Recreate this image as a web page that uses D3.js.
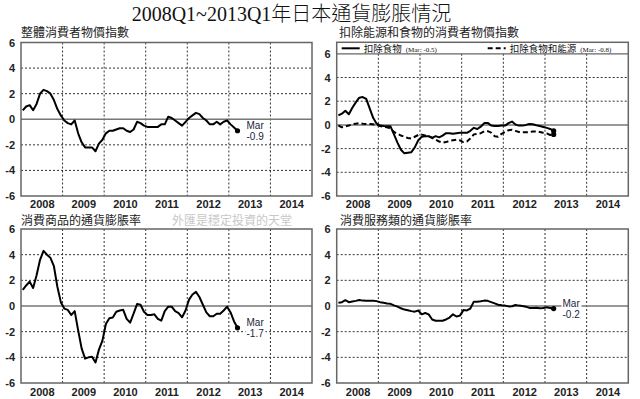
<!DOCTYPE html>
<html><head><meta charset="utf-8">
<script src="https://cdn.jsdelivr.net/npm/d3@7"></script>
<style>
html,body{margin:0;padding:0;background:#fff;}
svg{display:block;}
text{font-family:"Liberation Sans",Arial,"Noto Sans CJK TC",sans-serif;}
.cjk{font-family:"Liberation Sans","Noto Sans CJK TC",sans-serif;}
</style></head>
<body>
<script>
// ---------------- DATA ----------------
const title = "2008Q1~2013Q1年日本通貨膨脹情況";
const startYear = 2008;            // monthly series start Jan 2008, end Mar 2013
const years = [2008, 2009, 2010, 2011, 2012, 2013, 2014];
const yTicks = [-6, -4, -2, 0, 2, 4, 6];
const panelTitles = ["整體消費者物價指數", "扣除能源和食物的消費者物價指數", "消費商品的通貨膨脹率", "消費服務類的通貨膨脹率"];
const watermark = "外匯是穩定投資的天堂";
const legendNames = ["扣除食物", "扣除食物和能源"];
const legendNotes = ["(Mar: -0.5)", "(Mar: -0.8)"];
const endLabels = [["Mar", "-0.9"], null, ["Mar", "-1.7"], ["Mar", "-0.2"]];

const cpiAll = [
  0.7, 1.0, 1.1, 0.7, 1.2, 2.0, 2.3, 2.2, 2.0, 1.5, 0.8, 0.3,
  -0.1, -0.3, -0.4, -0.1, -1.1, -1.8, -2.2, -2.2, -2.2, -2.5, -1.9, -1.6,
  -1.1, -0.9, -0.9, -0.8, -0.7, -0.7, -0.9, -1.0, -0.8, -0.2, -0.3, -0.5,
  -0.6, -0.6, -0.6, -0.6, -0.4, -0.4, 0.2, 0.1, -0.1, -0.3, -0.5, -0.2,
  0.1, 0.3, 0.5, 0.4, 0.1, -0.1, -0.4, -0.4, -0.2, -0.4, -0.2, -0.1,
  -0.4, -0.65, -0.9
];
const cpiExFood = [
  0.8, 0.95, 1.2, 0.9, 1.45, 1.9, 2.3, 2.35, 2.2, 1.4, 0.6, 0.1,
  -0.05, -0.1, -0.12, -0.12, -0.8, -1.5, -2.1, -2.4, -2.35, -2.3, -1.9, -1.3,
  -1.0, -0.95, -0.95, -1.1, -0.95, -1.05, -0.9, -0.7, -0.7, -0.75, -0.7, -0.67,
  -0.67, -0.67, -0.5, -0.25, -0.35, -0.15, 0.15, 0.17, -0.05, -0.1, -0.1, -0.06,
  -0.06, 0.15, 0.28, 0.03, -0.06, -0.06, 0.0, 0.08, 0.05, -0.03, -0.1, -0.17,
  -0.25, -0.34, -0.5
];
const cpiExFoodEnergy = [
  -0.05, -0.2, -0.12, -0.05, 0.05, 0.1, 0.15, 0.1, 0.08, 0.08, 0.05, 0.0,
  -0.1, -0.15, -0.2, -0.3, -0.6, -0.75, -0.9, -1.0, -1.1, -1.15, -1.0, -0.85,
  -0.82, -0.9, -0.95, -1.1, -1.25, -1.4, -1.5, -1.45, -1.35, -1.3, -1.25, -1.3,
  -1.45, -1.4, -1.15, -0.8, -0.75, -0.7, -0.55, -0.53, -0.65, -0.95, -1.0, -0.75,
  -0.6, -0.45, -0.4, -0.5, -0.6, -0.62, -0.62, -0.62, -0.55, -0.55, -0.6, -0.67,
  -0.72, -0.85, -0.8
];
const goods = [
  1.25, 1.6, 1.9, 1.4, 2.4, 3.6, 4.3, 4.0, 3.75, 3.1, 1.5, 0.3,
  -0.2, -0.3, -0.7, -0.4, -1.9, -3.3, -4.1, -4.0, -3.95, -4.4, -3.4, -2.7,
  -1.4, -0.95, -0.9, -0.45, -0.35, -0.3, -1.0, -1.3, -0.6, 0.15, 0.1, -0.45,
  -0.7, -0.7, -0.65, -1.0, -1.14, -0.4, -0.05, -0.05, -0.4, -0.55, -0.88, -0.35,
  0.5, 0.9, 1.1, 0.7, 0.1, -0.5, -0.8, -0.8, -0.6, -0.6, -0.35, -0.05,
  -0.5, -1.2, -1.7
];
const services = [
  0.25, 0.3, 0.45, 0.3, 0.35, 0.4, 0.47, 0.42, 0.4, 0.4, 0.4, 0.38,
  0.3, 0.25, 0.2, 0.17, 0.05, -0.05, -0.18, -0.28, -0.33, -0.4, -0.44, -0.35,
  -0.65, -0.55, -0.65, -1.05, -1.15, -1.15, -1.15, -1.05, -0.9, -0.65, -0.82, -0.75,
  -0.32, -0.35, -0.2, 0.34, 0.34, 0.37, 0.42, 0.4, 0.3, 0.2, 0.1, 0.05,
  0.03, -0.03, -0.02, 0.08, 0.03, 0.0, -0.05, -0.15, -0.15, -0.13, -0.18, -0.15,
  -0.1, -0.15, -0.2
];

// ---------------- LAYOUT ----------------
const W = 640, H = 399;
const svg = d3.select("body").append("svg").attr("width", W).attr("height", H);

const panels = [
  {x0: 21, x1: 312, yTop: 42.5, yBot: 196, boxTop: 42.5, series: [{v: cpiAll, dash: null}], yearY: 208},
  {x0: 336.7, x1: 628.3, yTop: 53.8, yBot: 196, boxTop: 42.3, series: [{v: cpiExFood, dash: null}, {v: cpiExFoodEnergy, dash: "5,3"}], yearY: 208},
  {x0: 21, x1: 312, yTop: 229, yBot: 383, boxTop: 229, series: [{v: goods, dash: null}], yearY: 395.5},
  {x0: 336.7, x1: 628.3, yTop: 229, yBot: 383, boxTop: 229, series: [{v: services, dash: null}], yearY: 395.5}
];
const titlePos = [[21, 37], [339, 36.5], [21, 224.5], [340, 224.5]];
const labelPos = [[246.5, 128.8], null, [246.5, 325.5], [562.5, 306.5]];

// main title
svg.append("text").attr("x", 291.5).attr("y", 21).attr("text-anchor", "middle")
  .style("font-family", '"Liberation Serif","Noto Sans CJK TC",serif')
  .style("font-size", "20px").style("font-weight", 300).attr("fill", "#111").text(title);

panels.forEach((p, k) => {
  const g = svg.append("g");
  const x = d3.scaleLinear().domain([startYear, startYear + 7]).range([p.x0, p.x1]);
  const y = d3.scaleLinear().domain([-6, 6]).range([p.yBot, p.yTop]);

  // grid: horizontal dotted
  g.selectAll(".hg").data(yTicks.filter(t => t !== 0 && Math.abs(t) !== 6)).enter().append("line")
    .attr("x1", p.x0).attr("x2", p.x1).attr("y1", d => y(d)).attr("y2", d => y(d))
    .attr("stroke", "#333").attr("stroke-width", 1).attr("stroke-dasharray", "2,2");
  // grid: vertical dotted at year boundaries
  g.selectAll(".vg").data(years.slice(1)).enter().append("line")
    .attr("x1", d => x(d)).attr("x2", d => x(d)).attr("y1", p.yTop).attr("y2", p.yBot)
    .attr("stroke", "#333").attr("stroke-width", 1).attr("stroke-dasharray", "2,2");
  // zero line
  g.append("line").attr("x1", p.x0).attr("x2", p.x1).attr("y1", y(0)).attr("y2", y(0))
    .attr("stroke", "#777").attr("stroke-width", 1.5);

  // y axis labels
  const ya = d3.axisLeft(y).tickValues(yTicks).tickSize(0).tickPadding(6).tickFormat(d => String(d));
  const yg = g.append("g").attr("transform", `translate(${p.x0},0)`).call(ya);
  yg.select(".domain").remove();
  yg.selectAll("text").style("font-size", "11px").style("font-family", '"Liberation Sans",Arial,sans-serif')
    .attr("fill", "#222").style("font-weight", "bold");

  // year labels
  const xa = d3.axisBottom(x).tickValues(years.map(d => d + 0.5)).tickSize(0).tickPadding(0)
    .tickFormat(d => String(Math.floor(d)));
  const xg = g.append("g").attr("transform", `translate(0,${p.yearY - 9})`).call(xa);
  xg.select(".domain").remove();
  xg.selectAll("text").style("font-size", "11px").style("font-family", '"Liberation Sans",Arial,sans-serif')
    .attr("fill", "#222").style("font-weight", "bold").attr("dy", 0).attr("y", 9);

  // series
  p.series.forEach(s => {
    const pts = s.v.map((v, i) => [startYear + (i + 0.5) / 12, v]);
    g.append("path").datum(pts)
      .attr("d", d3.line().x(d => x(d[0])).y(d => y(d[1])))
      .attr("fill", "none").attr("stroke", "#000").attr("stroke-width", 2)
      .attr("stroke-linejoin", "round")
      .attr("stroke-dasharray", s.dash);
    const last = pts[pts.length - 1];
    g.append("circle").attr("cx", x(last[0])).attr("cy", y(last[1])).attr("r", 2.6).attr("fill", "#000");
  });

  // box
  g.append("rect").attr("x", p.x0).attr("y", p.boxTop).attr("width", p.x1 - p.x0).attr("height", p.yBot - p.boxTop)
    .attr("fill", "none").attr("stroke", "#666").attr("stroke-width", 1.5);

  // panel title
  svg.append("text").attr("class", "cjk").attr("x", titlePos[k][0]).attr("y", titlePos[k][1])
    .style("font-size", "12px").attr("fill", "#222").text(panelTitles[k]);

  // end label (two lines)
  if (endLabels[k]) {
    const [lx, ly] = labelPos[k];
    g.append("rect").attr("x", lx - 1).attr("y", ly - 8.5).attr("width", 20).attr("height", 20).attr("fill", "#fff");
    g.append("text").attr("x", lx).attr("y", ly).style("font-size", "10px").attr("fill", "#1c2540").text(endLabels[k][0]);
    g.append("text").attr("x", lx).attr("y", ly + 11.3).style("font-size", "10px").attr("fill", "#1c2540").text(endLabels[k][1]);
  }

  // legend for panel 2
  if (k === 1) {
    g.append("line").attr("x1", p.x0).attr("x2", p.x1).attr("y1", p.yTop).attr("y2", p.yTop)
      .attr("stroke", "#666").attr("stroke-width", 1.2);
    const ly = 48.3;
    const items = [{x: 341.7, dash: null}, {x: 487.7, dash: "5,3"}];
    items.forEach((it, j) => {
      g.append("line").attr("x1", it.x).attr("x2", it.x + 18).attr("y1", ly).attr("y2", ly)
        .attr("stroke", "#000").attr("stroke-width", 2).attr("stroke-dasharray", it.dash);
      const t = g.append("text").attr("x", it.x + 22).attr("y", ly + 3.5).attr("class", "cjk")
        .style("font-size", "9.5px").attr("fill", "#111");
      t.append("tspan").text(legendNames[j]);
      t.append("tspan").attr("dx", 4).style("font-size", "7px")
        .style("font-family", '"Liberation Serif",serif').text(legendNotes[j]);
    });
  }
});

// watermark
svg.append("text").attr("class", "cjk").attr("x", 172).attr("y", 224.5)
  .style("font-size", "12px").attr("fill", "#c8c8c8").text(watermark);
</script>
</body></html>
